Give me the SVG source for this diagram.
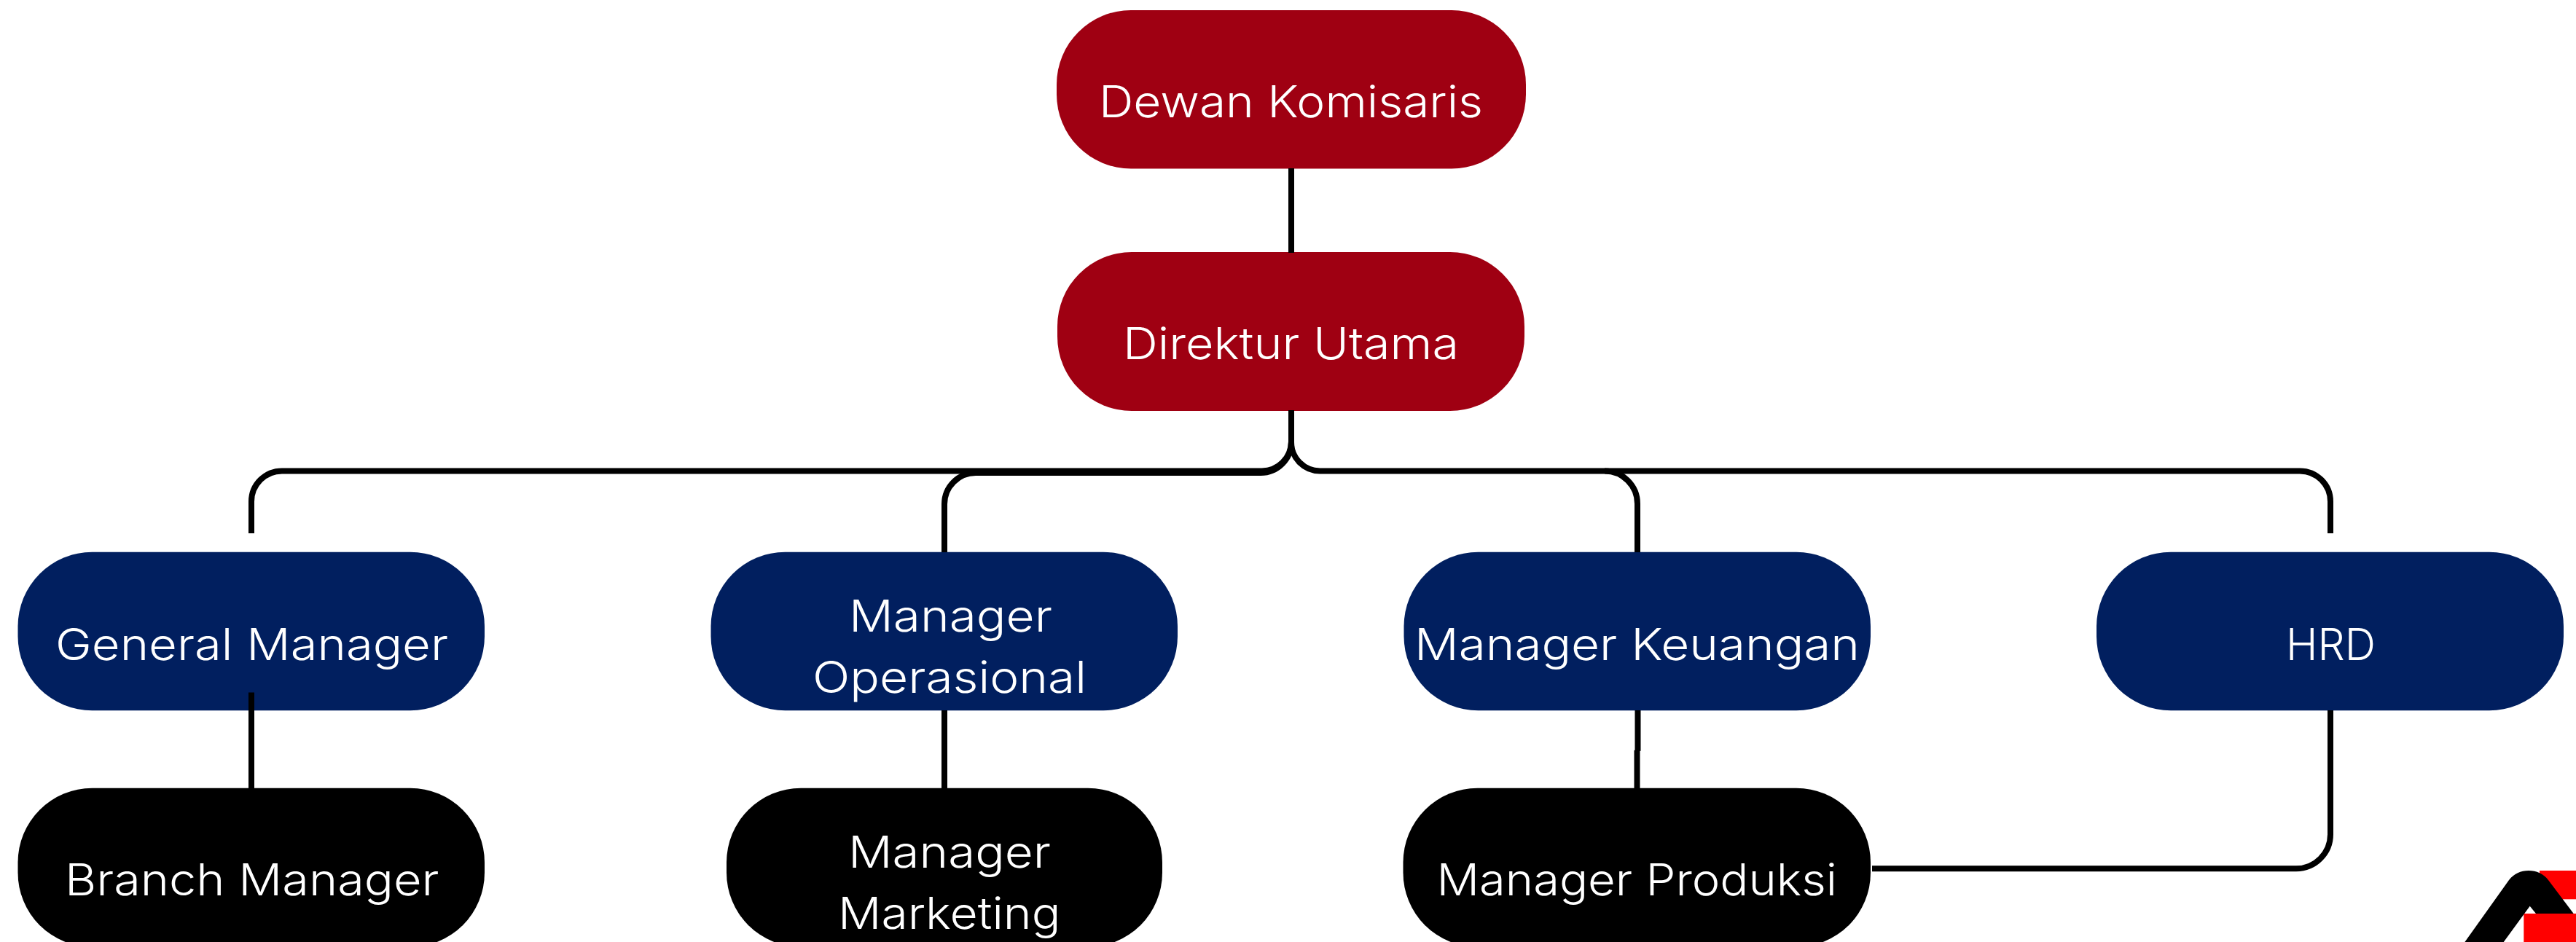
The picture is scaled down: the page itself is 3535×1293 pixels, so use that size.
<svg xmlns="http://www.w3.org/2000/svg" width="3535" height="1293" viewBox="0 0 3535 1293">
<style>
.box{stroke:none}
.red{fill:#9f0012}
.navy{fill:#011f5f}
.black{fill:#000}
text{font-family:"Inter","Noto Sans","Liberation Sans",sans-serif;font-size:61px;font-weight:350;fill:#fff}
.c{fill:none;stroke:#000;stroke-width:8}
</style>
<rect width="3535" height="1293" fill="#fff"/>
<g id="dewan-komisaris"><rect class="box red" x="1450" y="14" width="644" height="217.500" rx="102" ry="102"/><text x="1508" y="161" textLength="527" lengthAdjust="spacingAndGlyphs">Dewan Komisaris</text></g>
<g id="direktur-utama"><rect class="box red" x="1451" y="346" width="641" height="218" rx="102" ry="102"/><text x="1541" y="493.400" textLength="461" lengthAdjust="spacingAndGlyphs">Direktur Utama</text></g>
<g id="general-manager"><rect class="box navy" x="24.500" y="757.800" width="640.500" height="217.500" rx="102" ry="102"/><text x="76" y="905.800" textLength="539" lengthAdjust="spacingAndGlyphs">General Manager</text></g>
<g id="manager-operasional"><rect class="box navy" x="975.500" y="757.800" width="640.500" height="217.500" rx="102" ry="102"/><text x="1165" y="867.400" textLength="279" lengthAdjust="spacingAndGlyphs">Manager</text><text x="1115" y="950.800" textLength="376" lengthAdjust="spacingAndGlyphs">Operasional</text></g>
<g id="manager-keuangan"><rect class="box navy" x="1926.500" y="757.800" width="640.500" height="217.500" rx="102" ry="102"/><text x="1941" y="905.800" textLength="611" lengthAdjust="spacingAndGlyphs">Manager Keuangan</text></g>
<g id="hrd"><rect class="box navy" x="2877" y="757.800" width="641" height="217.500" rx="102" ry="102"/><text x="3137" y="905.800" textLength="123" lengthAdjust="spacingAndGlyphs">HRD</text></g>
<g id="branch-manager"><rect class="box black" x="24.500" y="1081.800" width="640.500" height="218" rx="102" ry="102"/><text x="89" y="1229.300" textLength="513.500" lengthAdjust="spacingAndGlyphs">Branch Manager</text></g>
<g id="manager-marketing"><rect class="box black" x="997" y="1081.800" width="598" height="218" rx="102" ry="102"/><text x="1164" y="1191.300" textLength="278" lengthAdjust="spacingAndGlyphs">Manager</text><text x="1150" y="1275.200" textLength="305.500" lengthAdjust="spacingAndGlyphs">Marketing</text></g>
<g id="manager-produksi"><rect class="box black" x="1925.500" y="1081.800" width="641.500" height="218" rx="102" ry="102"/><text x="1971.500" y="1229.300" textLength="549.500" lengthAdjust="spacingAndGlyphs">Manager Produksi</text></g>
<g id="connectors">
<path class="c" d="M1772 231V347"/>
<path class="c" d="M1772 563V606A40.400 40.400 0 0 1 1731.600 646.400H387A42 42 0 0 0 345 688.400V732"/>
<path class="c" d="M1772 563V607A42 42 0 0 1 1730 649H1339A43 43 0 0 0 1296 692V758"/>
<path class="c" d="M1772 563V607A39.400 39.400 0 0 0 1811.400 646.400H3156A42 42 0 0 1 3198 688.400V732"/>
<path class="c" d="M2202 646.400A45 45 0 0 1 2247 691.400V758"/>
<path class="c" d="M345 950.400V1082.300"/>
<path class="c" d="M1296 975V1082.300"/>
<path class="c" d="M2247.500 975V1030.800"/>
<path class="c" d="M2246.500 1029.800V1082.300"/>
<path class="c" d="M3198 975V1145.300A47 47 0 0 1 3151 1192.300H2569"/>
</g>
<g id="logo">
<rect x="3485" y="1195" width="50" height="39.300" fill="#f00"/>
<rect x="3463.300" y="1254" width="71.700" height="39" fill="#f00"/>
<path d="M3381.700 1294L3443 1208C3450 1199 3459 1195 3470 1195C3481 1195 3490 1199 3497 1208L3531.700 1254H3480L3471.700 1243.700L3435 1294Z" fill="#000"/>
</g>
</svg>
